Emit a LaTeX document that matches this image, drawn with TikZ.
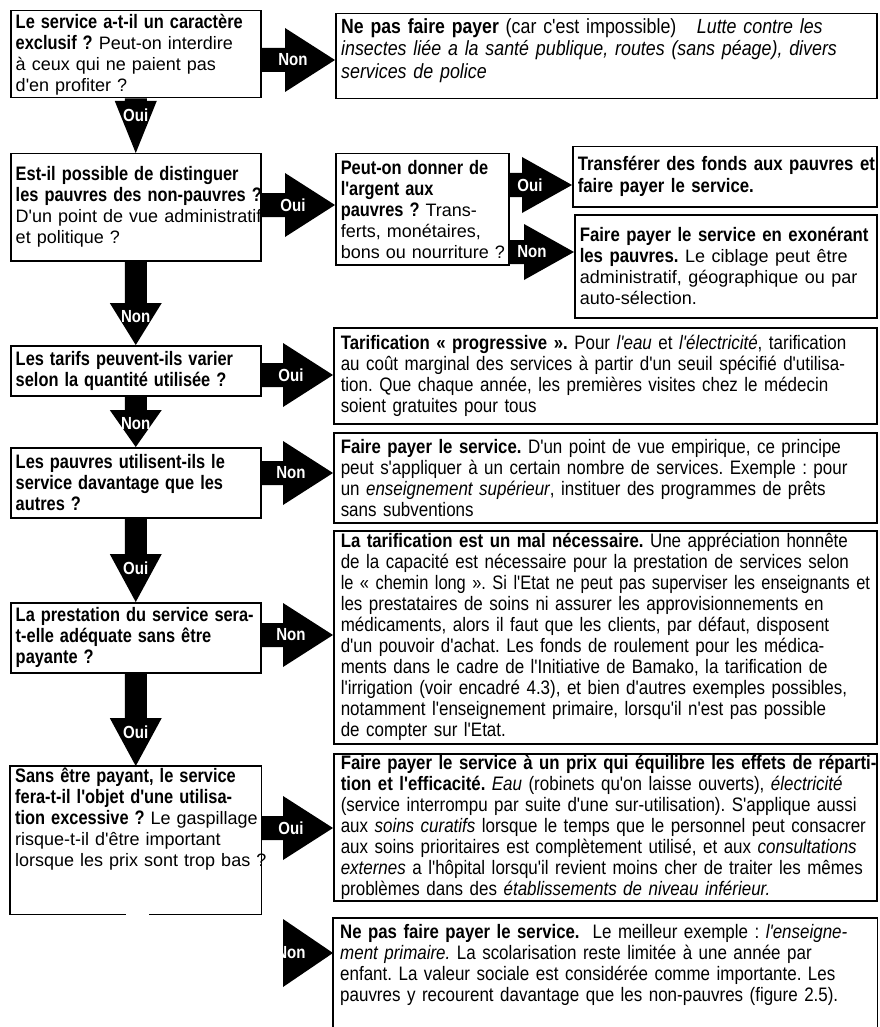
\documentclass[tikz,border=0pt]{standalone}
\usepackage{fontspec}
\setmainfont{Liberation Sans}
\newfontfamily\fRg{Liberation Sans}
\newfontfamily\fBc{Liberation Sans Bold}[FakeStretch=0.86]
\newfontfamily\fBl{Liberation Sans Bold}[FakeStretch=0.84]
\newfontfamily\fRc{Liberation Sans}[FakeStretch=0.87]
\newfontfamily\fRn{Liberation Sans}[FakeStretch=0.84]
\newfontfamily\fIc{Liberation Sans Italic}[FakeStretch=0.87]
\usetikzlibrary{calc}
\setlength{\parindent}{0pt}
\frenchspacing
\newcommand\tLB[1]{{\fBl\fontsize{19.5}{21}\selectfont #1}}
\newcommand\tB[1]{{\fBc #1}}
\newcommand\tI[1]{{\fIc #1}}
\newcommand\tR[1]{{\fRg\fontsize{18}{21}\selectfont #1}}
\newcommand\lineR[1]{\mbox{#1}}
\newcommand\lineJ[1]{\makebox[\hsize][s]{#1}}
\newcommand\varrow[5]{%
  \fill ($(#1.south)+(-11,0)$) -- ($(#2.north)+(-11,-#4)$) -- ($(#2.north)+(-#5,-#4)$) -- (#2.north)
     -- ($(#2.north)+(#5,-#4)$) -- ($(#2.north)+(11,-#4)$) -- ($(#1.south)+(11,0)$) -- cycle;
  \node[lbl] at ($(#2.north)+(0,-#4+14)$) {#3};}
\newcommand\harrow[6]{%
  \coordinate (hy) at (0,#3);
  \coordinate (hs) at (#1.east |- hy);
  \coordinate (he) at (#2.west |- hy);
  \fill ($(hs)+(0,-12)$) -- ($(he)+(-#5,-12)$) -- ($(he)+(-#5,-#6)$) -- (he)
     -- ($(he)+(-#5,#6)$) -- ($(he)+(-#5,12)$) -- ($(hs)+(0,12)$) -- cycle;
  \node[lbl] at ($(he)+(-42,0)$) {#4};}
\begin{document}
\begin{tikzpicture}[x=1pt,y=-1pt,
  box/.style={draw, line width=1.5pt, anchor=north west, inner xsep=5pt, inner ysep=0pt, align=left},
  txt/.style={anchor=north west, inner sep=0pt, align=left},
  lft/.style={font=\fRg\fontsize{18}{21}\selectfont},
  rgt/.style={font=\fRc\fontsize{19.5}{21}\selectfont},
  wide/.style={inner xsep=7pt, minimum width=543, text width=529},
  lbl/.style={text=white, font=\fBc\fontsize{17.5}{18}\selectfont, inner sep=0pt}]
\useasboundingbox (0,0) rectangle (879,1027);
\fill[white] (0,0) rectangle (879,1027);

% ---------- left column ----------
\node[box,lft,minimum width=250,minimum height=87,text width=240] (A) at (10,10) {%
\lineR{\tLB{Le service a-t-il un caractère}}\\
\lineR{\tLB{exclusif ?} Peut-on interdire}\\
\lineR{à ceux qui ne paient pas}\\
\lineR{d'en profiter ?}};

\node[box,lft,minimum width=250,minimum height=107,text width=240] (B) at (10,153) {%
\lineR{\tLB{Est-il possible de distinguer}}\\
\lineR{\tLB{les pauvres des non-pauvres ?}}\\
\lineR{D'un point de vue administratif}\\
\lineR{et politique ?}};

\node[box,lft,minimum width=250,minimum height=50,text width=240] (C) at (10,345) {%
\lineR{\tLB{Les tarifs peuvent-ils varier}}\\
\lineR{\tLB{selon la quantité utilisée ?}}};

\node[box,lft,minimum width=250,minimum height=70,text width=240] (D) at (10,447) {%
\lineR{\tLB{Les pauvres utilisent-ils le}}\\
\lineR{\tLB{service davantage que les}}\\
\lineR{\tLB{autres ?}}};

\node[box,lft,minimum width=250,minimum height=70,text width=240] (E) at (10,602) {%
\lineR{\tLB{La prestation du service sera-}}\\
\lineR{\tLB{t-elle adéquate sans être}}\\
\lineR{\tLB{payante ?}}};

\node[box,draw=none,minimum width=250,minimum height=147] (F) at (10,766) {};
\draw[line width=1.5pt] ($(F.south)+(-10,0)$) -- (F.south west) -- (F.north west) -- (F.north east)
   -- (F.south east) -- ($(F.south)+(13,0)$);
\node[txt,lft,text width=245] (Ft) at (15,768) {%
\lineR{\tLB{Sans être payant, le service}}\\
\lineR{\tLB{fera-t-il l'objet d'une utilisa-}}\\
\lineR{\tLB{tion excessive ?} Le gaspillage}\\
\lineR{risque-t-il d'être important}\\
\lineR{lorsque les prix sont trop bas ?}};

% ---------- right column ----------
\node[box,minimum width=541,minimum height=85] (G) at (335,13) {};
\node[txt,font=\fRc\fontsize{20.5}{22.5}\selectfont,text width=530] (Gt) at (341,18) {%
\lineR{\tB{Ne pas faire payer} (car c'est impossible)\quad \tI{Lutte contre les}}\\
\lineR{\tI{insectes liée a la santé publique, routes (sans péage), divers}}\\
\lineR{\tI{services de police}}};

\node[box,lft,minimum width=173,minimum height=111,text width=163] (H) at (335,153) {%
\lineR{\tLB{Peut-on donner de}}\\
\lineR{\tLB{l'argent aux}}\\
\lineR{\tLB{pauvres ?} Trans-}\\
\lineR{ferts, monétaires,}\\
\lineR{bons ou nourriture ?}};

\node[box,font=\fRc\fontsize{19.5}{22}\selectfont,minimum width=304,minimum height=60,text width=294] (I) at (572,146) {%
\lineR{\tB{Transférer des fonds aux pauvres et}}\\
\lineR{\tB{faire payer le service.}}};

\node[box,rgt,minimum width=302,minimum height=103,text width=292] (J) at (574,214) {%
\lineR{\tB{Faire payer le service en exonérant}}\\
\lineR{\tB{les pauvres.} \tR{Le ciblage peut être}}\\
\lineR{\tR{administratif, géographique ou par}}\\
\lineR{\tR{auto-sélection.}}};

\node[box,rgt,wide,minimum height=96] (K) at (333,327) {%
\lineJ{\tB{Tarification « progressive ».} Pour \tI{l'eau} et \tI{l'électricité}, tarification}\\
\lineJ{au coût marginal des services à partir d'un seuil spécifié d'utilisa-}\\
\lineR{tion. Que chaque année, les premières visites chez le médecin}\\
\lineR{soient gratuites pour tous}};

\node[box,rgt,wide,minimum height=90] (L) at (333,432) {%
\lineJ{\tB{Faire payer le service.} D'un point de vue empirique, ce principe}\\
\lineJ{peut s'appliquer à un certain nombre de services. Exemple : pour}\\
\lineR{un \tI{enseignement supérieur}, instituer des programmes de prêts}\\
\lineR{sans subventions}};

\node[box,rgt,wide,minimum height=213] (M) at (333,530) {%
\lineJ{\tB{La tarification est un mal nécessaire.} Une appréciation honnête}\\
\lineJ{de la capacité est nécessaire pour la prestation de services selon}\\
\lineJ{\fRn le « chemin long ». Si l'Etat ne peut pas superviser les enseignants et}\\
\lineJ{les prestataires de soins ni assurer les approvisionnements en}\\
\lineJ{médicaments, alors il faut que les clients, par défaut, disposent}\\
\lineJ{d'un pouvoir d'achat. Les fonds de roulement pour les médica-}\\
\lineJ{ments dans le cadre de l'Initiative de Bamako, la tarification de}\\
\lineJ{l'irrigation (voir encadré 4.3), et bien d'autres exemples possibles,}\\
\lineJ{notamment l'enseignement primaire, lorsqu'il n'est pas possible}\\
\lineR{de compter sur l'Etat.}};

\node[box,rgt,wide,minimum height=147] (N) at (333,753) {%
\lineJ{\tB{Faire payer le service à un prix qui équilibre les effets de réparti-}}\\
\lineJ{\tB{tion et l'efficacité.} \tI{Eau} (robinets qu'on laisse ouverts), \tI{électricité}}\\
\lineJ{(service interrompu par suite d'une sur-utilisation). S'applique aussi}\\
\lineJ{aux \tI{soins curatifs} lorsque le temps que le personnel peut consacrer}\\
\lineJ{aux soins prioritaires est complètement utilisé, et aux \tI{consultations}}\\
\lineJ{\tI{externes} a l'hôpital lorsqu'il revient moins cher de traiter les mêmes}\\
\lineR{problèmes dans des \tI{établissements de niveau inférieur.}}};

\node[box,draw=none,wide,minimum height=109] (O) at (333,918) {};
\draw[line width=1.5pt] (O.south west) -- (O.north west) -- (O.north east) -- (O.south east);
\node[txt,rgt,text width=529] (Ot) at (340,924) {%
\lineJ{\tB{Ne pas faire payer le service.}\ \ Le meilleur exemple : \tI{l'enseigne-}}\\
\lineJ{\tI{ment primaire.} La scolarisation reste limitée à une année par}\\
\lineJ{enfant. La valeur sociale est considérée comme importante. Les}\\
\lineR{pauvres y recourent davantage que les non-pauvres (figure 2.5).}};

% ---------- arrows ----------
\varrow{A}{B}{Oui}{52}{21}
\varrow{B}{C}{Non}{42}{26}
\varrow{C}{D}{Non}{37}{26}
\varrow{D}{E}{Oui}{48}{26}
\varrow{E}{F}{Oui}{48}{26}

\harrow{A}{G}{60}{Non}{50}{32}
\harrow{B}{H}{205}{Oui}{50}{32}
\harrow{H}{I}{185}{Oui}{50}{28}
\harrow{H}{J}{252}{Non}{50}{28}
\harrow{C}{K}{375}{Oui}{50}{32}
\harrow{D}{L}{473}{Non}{50}{32}
\harrow{E}{M}{635}{Non}{50}{32}
\harrow{F}{N}{828}{Oui}{50}{32}

\coordinate (hy) at (0,953);
\coordinate (he) at (O.west |- hy);
\fill ($(he)+(-50,-34)$) -- (he) -- ($(he)+(-50,34)$) -- cycle;
\node[lbl] at ($(he)+(-42,0)$) {Non};
\end{tikzpicture}
\end{document}
